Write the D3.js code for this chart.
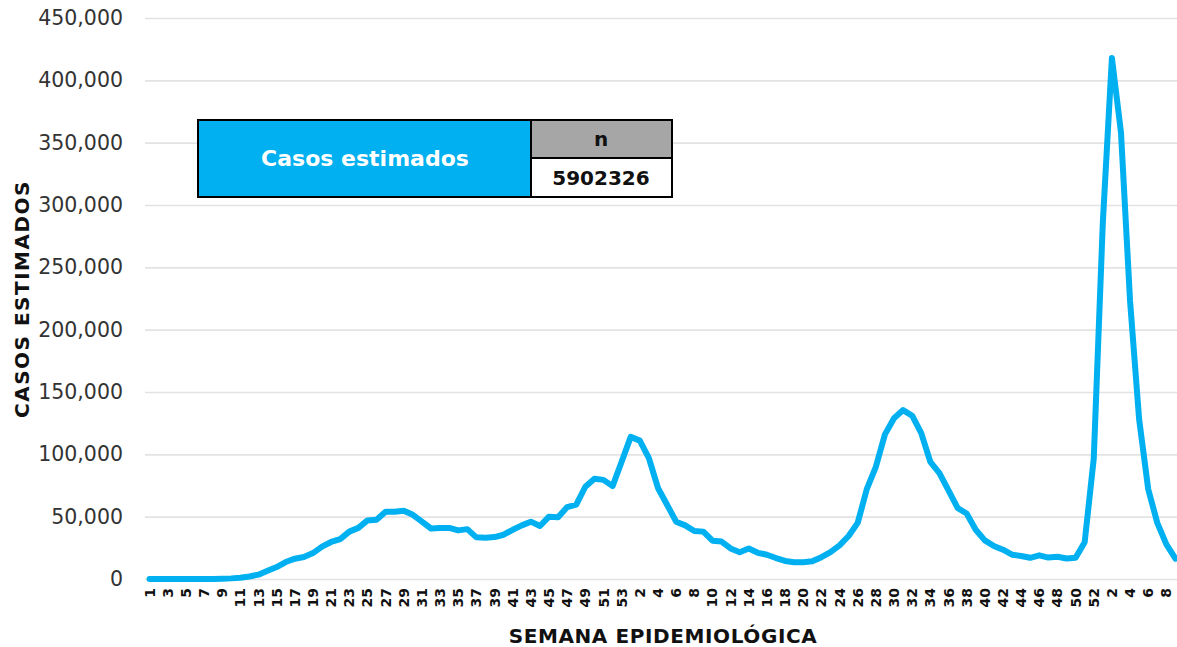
<!DOCTYPE html>
<html>
<head>
<meta charset="utf-8">
<script src="https://cdn.jsdelivr.net/npm/d3@7/dist/d3.min.js"></script>
<style>
  html, body { margin: 0; padding: 0; background: #ffffff; }
  svg { display: block; }
</style>
</head>
<body>
<svg id="chart" width="1177" height="647"></svg>
<script>
// ---- Data ----
const weeks2020 = [1,2,3,4,5,6,7,8,9,10,11,12,13,14,15,16,17,18,19,20,21,22,23,24,25,26,27,28,29,30,31,32,33,34,35,36,37,38,39,40,41,42,43,44,45,46,47,48,49,50,51,52,53];
const weeks2021 = [1,2,3,4,5,6,7,8,9,10,11,12,13,14,15,16,17,18,19,20,21,22,23,24,25,26,27,28,29,30,31,32,33,34,35,36,37,38,39,40,41,42,43,44,45,46,47,48,49,50,51,52];
const weeks2022 = [1,2,3,4,5,6,7,8,9];
const categories = weeks2020.concat(weeks2021, weeks2022);

const casos = [
  0,0,0,0,0,0,0,0,200,500,
  1000,2000,3500,6600,9600,13600,16300,17600,20800,26000,
  29700,32000,38000,41000,47000,47500,54000,54000,54800,51500,
  46000,40500,41000,41000,39000,40000,33400,33000,33600,35500,
  39500,43000,46000,42500,50000,49500,57700,59600,74000,80400,
  79500,74500,94000,114000,111000,97000,73000,59600,46000,43000,
  38500,38000,30700,30000,24500,21500,24500,21000,19500,16800,
  14500,13500,13500,14200,17500,21500,27000,34500,45000,72000,
  90000,116000,129000,135500,131000,117000,94000,85000,71000,57000,
  52500,39500,31000,26500,23500,19500,18500,17000,19000,17200,
  17800,16400,17000,29500,96500,286000,418000,358000,223000,128000,
  72000,45000,27800,16400
];

const yTicks = [0,50000,100000,150000,200000,250000,300000,350000,400000,450000];
const tableHeader = ["Casos estimados", "n"];
const tableValue = ["5902326"];
const yTitle = "CASOS ESTIMADOS";
const xTitle = "SEMANA EPIDEMIOLÓGICA";

// ---- Layout ----
const svg = d3.select("#chart");
const plotLeft = 145, plotRight = 1180, gridRight = 1177;
const plotTop = 18, plotBottom = 579;
const idx = d3.range(categories.length);

const x = d3.scaleBand().domain(idx).range([plotLeft, plotRight]).paddingInner(0).paddingOuter(0);
const xc = i => x(i) + x.bandwidth() / 2;
const y = d3.scaleLinear().domain([0, 450000]).range([plotBottom, plotTop]);

const fmt = d3.format(",");

// Gridlines + y labels
const yAxis = d3.axisLeft(y)
  .tickValues(yTicks)
  .tickFormat(d => fmt(d))
  .tickSize(-(gridRight - plotLeft))
  .tickPadding(22);
const gy = svg.append("g").attr("transform", `translate(${plotLeft},0)`).call(yAxis);
gy.select(".domain").remove();
gy.selectAll(".tick line").attr("stroke", "#e3e3e3").attr("stroke-width", 1.6);
gy.selectAll(".tick text")
  .attr("font-family", "DejaVu Sans, sans-serif")
  .attr("font-size", 20.5)
  .attr("fill", "#333333");

// X axis labels
const xAxis = d3.axisBottom(x)
  .tickValues(idx.filter(i => i % 2 === 0))
  .tickFormat(i => categories[i])
  .tickSize(0)
  .tickPadding(0);
const gx = svg.append("g").attr("transform", `translate(0,${plotBottom})`).call(xAxis);
gx.select(".domain").remove();
gx.selectAll(".tick text")
  .attr("font-family", "DejaVu Sans, sans-serif")
  .attr("font-weight", "bold")
  .attr("font-size", 14)
  .attr("fill", "#111111")
  .attr("text-anchor", "end")
  .attr("transform", "rotate(-90)")
  .attr("x", -9)
  .attr("y", 0)
  .attr("dy", "0.36em");

// Line
const line = d3.line()
  .x((d, i) => xc(i))
  .y(d => y(d));
svg.append("path")
  .datum(casos)
  .attr("fill", "none")
  .attr("stroke", "#00b0f0")
  .attr("stroke-width", 6)
  .attr("stroke-linejoin", "round")
  .attr("stroke-linecap", "round")
  .attr("d", line);

// Axis titles
svg.append("text")
  .attr("transform", "translate(29,299) rotate(-90)")
  .attr("text-anchor", "middle")
  .attr("font-family", "DejaVu Sans, sans-serif")
  .attr("font-weight", "bold")
  .attr("font-size", 20)
  .attr("letter-spacing", 1.5)
  .attr("fill", "#111111")
  .text(yTitle);

svg.append("text")
  .attr("x", 663)
  .attr("y", 643)
  .attr("text-anchor", "middle")
  .attr("font-family", "DejaVu Sans, sans-serif")
  .attr("font-weight", "bold")
  .attr("font-size", 20)
  .attr("letter-spacing", 0.6)
  .attr("fill", "#111111")
  .text(xTitle);

// Table box
const t = svg.append("g");
t.append("rect").attr("x", 198).attr("y", 120).attr("width", 333).attr("height", 77)
  .attr("fill", "#00b0f0").attr("stroke", "#000").attr("stroke-width", 2);
t.append("rect").attr("x", 531).attr("y", 120).attr("width", 141).attr("height", 38)
  .attr("fill", "#a6a6a6").attr("stroke", "#000").attr("stroke-width", 2);
t.append("rect").attr("x", 531).attr("y", 158).attr("width", 141).attr("height", 39)
  .attr("fill", "#ffffff").attr("stroke", "#000").attr("stroke-width", 2);
t.append("text").attr("x", 365).attr("y", 158).attr("dy", "0.35em")
  .attr("text-anchor", "middle").attr("font-family", "DejaVu Sans, sans-serif")
  .attr("font-weight", "bold").attr("font-size", 22).attr("fill", "#ffffff")
  .text(tableHeader[0]);
t.append("text").attr("x", 601).attr("y", 139).attr("dy", "0.35em")
  .attr("text-anchor", "middle").attr("font-family", "DejaVu Sans, sans-serif")
  .attr("font-weight", "bold").attr("font-size", 20).attr("fill", "#111111")
  .text(tableHeader[1]);
t.append("text").attr("x", 601).attr("y", 178).attr("dy", "0.35em")
  .attr("text-anchor", "middle").attr("font-family", "DejaVu Sans, sans-serif")
  .attr("font-weight", "bold").attr("font-size", 20).attr("fill", "#111111")
  .text(tableValue[0]);
</script>
</body>
</html>
